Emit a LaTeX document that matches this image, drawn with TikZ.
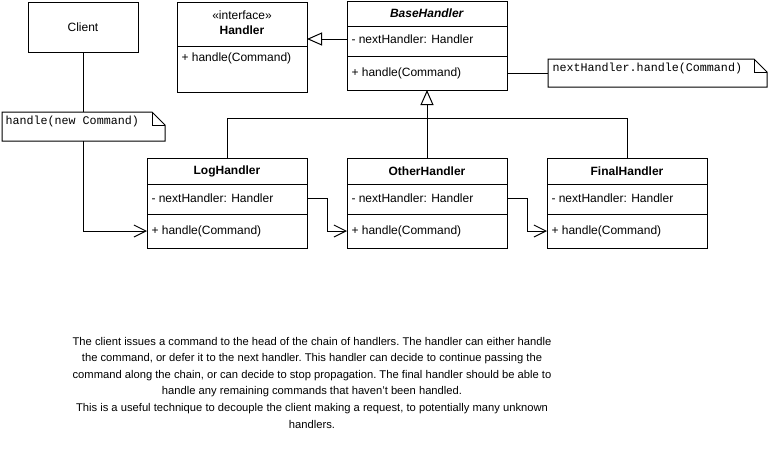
\documentclass[tikz,border=0pt]{standalone}
\usepackage{fontspec}
\setmainfont{Liberation Sans}
\newfontfamily\monofont{Liberation Mono}
\usetikzlibrary{arrows.meta}
\tikzset{
  box/.style 2 args={draw, anchor=north west, minimum width=#1, minimum height=#2, inner sep=0pt, outer sep=0pt},
  ghost/.style 2 args={anchor=north west, minimum width=#1, minimum height=#2, inner sep=0pt, outer sep=0pt},
  member/.style={anchor=west, inner sep=0pt, font=\fontsize{12}{14}\selectfont},
  cname/.style={anchor=center, inner sep=0pt, align=center, font=\fontsize{12}{15}\selectfont},
  mono/.style={anchor=west, inner sep=0pt, font=\monofont\fontsize{11.7}{14}\selectfont},
  inherit/.style={-{Triangle[open,length=15pt,width=13pt]}},
  call/.style={-{Straight Barb[length=12pt,width=12pt]}},
}
\begin{document}
\begin{tikzpicture}[x=1pt,y=-1pt,line width=1pt]
\useasboundingbox (0,0) rectangle (769,474);

% Client
\node[box={110pt}{50pt}, font=\fontsize{12}{14}\selectfont] (client) at (28,2) {Client};

% Handler interface
\node[box={130pt}{90pt}] (handler) at (177,2) {};
\node[cname] (hname) at (242,22.5) {«interface»\\\textbf{Handler}};
\draw (handler.north west) ++(0,44) -- ++(130,0);
\node[member] (hm) at (181,58) {+ handle(Command)};

% BaseHandler
\node[box={160pt}{89pt}] (base) at (347,1) {};
\node[cname] (bname) at (427,13) {\textbf{\textit{BaseHandler}}};
\draw (base.north west) ++(0,25) -- ++(160,0);
\draw (base.north west) ++(0,55) -- ++(160,0);
\node[member] (ba) at (351,39) {- nextHandler: Handler};
\node[member] (bm) at (351,73) {+ handle(Command)};

% LogHandler
\node[box={160pt}{90pt}] (log) at (147,158) {};
\node[cname] (lname) at (227,171) {\textbf{LogHandler}};
\draw (log.north west) ++(0,26) -- ++(160,0);
\draw (log.north west) ++(0,56) -- ++(160,0);
\node[member] (la) at (151,198) {- nextHandler: Handler};
\node[member] (lm) at (151,231) {+ handle(Command)};

% OtherHandler
\node[box={160pt}{90pt}] (other) at (347,158) {};
\node[cname] (oname) at (427,171) {\textbf{OtherHandler}};
\draw (other.north west) ++(0,26) -- ++(160,0);
\draw (other.north west) ++(0,56) -- ++(160,0);
\node[member] (oa) at (351,198) {- nextHandler: Handler};
\node[member] (om) at (351,231) {+ handle(Command)};

% FinalHandler
\node[box={160pt}{90pt}] (final) at (547,158) {};
\node[cname] (fname) at (627,171) {\textbf{FinalHandler}};
\draw (final.north west) ++(0,26) -- ++(160,0);
\draw (final.north west) ++(0,56) -- ++(160,0);
\node[member] (fa) at (551,198) {- nextHandler: Handler};
\node[member] (fm) at (551,231) {+ handle(Command)};

% Note 1
\node[ghost={163pt}{29pt}] (note1) at (2,112) {};
\draw (note1.north west) -- ([xshift=-13pt]note1.north east) -- ([yshift=-13pt]note1.north east) -- (note1.south east) -- (note1.south west) -- cycle;
\draw ([xshift=-13pt]note1.north east) -- ([xshift=-13pt,yshift=-13pt]note1.north east) -- ([yshift=-13pt]note1.north east);
\node[mono] (n1t) at (5,121) {handle(new Command)};

% Note 2
\node[ghost={219pt}{28pt}] (note2) at (548,59) {};
\draw (note2.north west) -- ([xshift=-13pt]note2.north east) -- ([yshift=-13pt]note2.north east) -- (note2.south east) -- (note2.south west) -- cycle;
\draw ([xshift=-13pt]note2.north east) -- ([xshift=-13pt,yshift=-13pt]note2.north east) -- ([yshift=-13pt]note2.north east);
\node[mono] (n2t) at (552,68) {nextHandler.handle(Command)};

% Connectors
\draw (client.south) -- (client.south |- note1.north);
\draw[call] (client.south |- note1.south) |- (log.west |- lm);
\draw[inherit] (base.west |- ba) -- (handler.east |- ba);
\draw[inherit] (other.north) -- (base.south);
\draw (log.north) -- ++(0,-40) -| (final.north);
\draw (base.east |- bm) -- (note2.west |- bm);
\draw[call] (log.east |- la) -- ++(20,0) |- (other.west |- om);
\draw[call] (other.east |- oa) -- ++(20,0) |- (final.west |- fm);

% Description
\node[anchor=center, align=center, inner sep=0pt, font=\frenchspacing\fontsize{11.2}{16.6}\selectfont] (desc) at (312,382.5) {The client issues a command to the head of the chain of handlers. The handler can either handle\\the command, or defer it to the next handler. This handler can decide to continue passing the\\command along the chain, or can decide to stop propagation. The final handler should be able to\\handle any remaining commands that haven't been handled.\\This is a useful technique to decouple the client making a request, to potentially many unknown\\handlers.};
\end{tikzpicture}
\end{document}
